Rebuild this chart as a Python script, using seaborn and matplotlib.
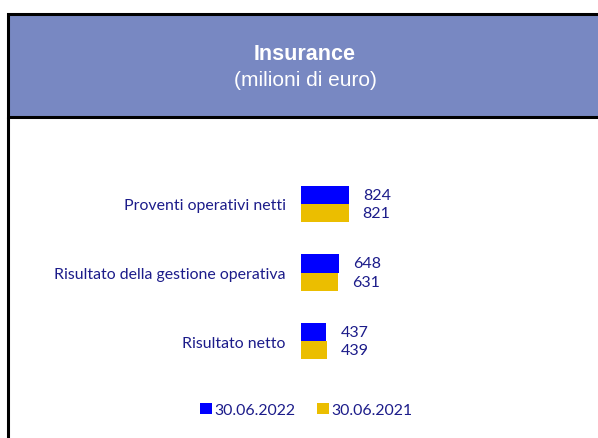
import matplotlib
matplotlib.use("Agg")
import matplotlib.pyplot as plt
from matplotlib.patches import Rectangle
import pandas as pd
import seaborn as sns

categories = ["Proventi operativi netti",
              "Risultato della gestione operativa",
              "Risultato netto"]
periods = ["30.06.2022", "30.06.2021"]
v2022 = [824, 648, 437]
v2021 = [821, 631, 439]

df = pd.DataFrame({
    "voce": categories * 2,
    "periodo": [periods[0]] * 3 + [periods[1]] * 3,
    "valore": v2022 + v2021,
})

sns.set_style("white")
plt.rcParams["font.family"] = ["Lato", "DejaVu Sans"]

navy = "#1c1c8a"
colors = {"30.06.2022": "#0000ff", "30.06.2021": "#ebbe00"}

W, H = 598, 439
fig = plt.figure(figsize=(W / 100, H / 100), dpi=100)

# header box
fig.patches.append(Rectangle((8 / W, 1 - 118 / H), 600 / W, 103 / H,
                             transform=fig.transFigure, facecolor="#7888c2",
                             edgecolor="black", linewidth=2.2, zorder=0))
fig.add_artist(plt.Line2D([8 / W, 8 / W], [0, 1 - 118 / H],
                          transform=fig.transFigure, color="black", lw=2.2))
fig.text(305 / W, 1 - 55 / H, "Insurance", ha="center", va="center",
         color="white", fontsize=15.5, fontweight="bold", family="Liberation Sans")
fig.text(305 / W, 1 - 80 / H, "(milioni di euro)", ha="center", va="center",
         color="white", fontsize=15, family="Liberation Sans")

# bar axes: x=0 at px 301, 48 px per 824
ax_l, ax_r = 301, 560
unit = 68.5
top_px = 205 - 0.6 * unit
bot_px = 342 + 0.6 * unit
ax = fig.add_axes([ax_l / W, 1 - bot_px / H, (ax_r - ax_l) / W, (bot_px - top_px) / H])
ax.patch.set_alpha(0)

sns.barplot(data=df, y="voce", x="valore", hue="periodo", hue_order=periods,
            palette=colors, orient="h", width=0.526, ax=ax, saturation=1,
            linewidth=0)

ax.set_xlim(0, (ax_r - ax_l) * 824 / 48)
ax.set_ylim(2.6, -0.6)
for c in ax.containers:
    ax.bar_label(c, fmt="%d", padding=10, color=navy, fontsize=11.5)
ax.set_xlabel("")
ax.set_ylabel("")
ax.set_xticks([])
ax.tick_params(axis="y", length=0, pad=11, labelcolor=navy, labelsize=11.4)
sns.despine(ax=ax, left=True, bottom=True)

handles, labels = ax.get_legend_handles_labels()
ax.get_legend().remove()
fig.legend(handles, labels, loc="center", bbox_to_anchor=(306 / W, 1 - 411 / H),
           ncol=2, frameon=False, fontsize=11.4, labelcolor=navy,
           handlelength=0.75, handleheight=0.75, handletextpad=0.15, columnspacing=1.35)

fig.savefig("out.png", dpi=100)
